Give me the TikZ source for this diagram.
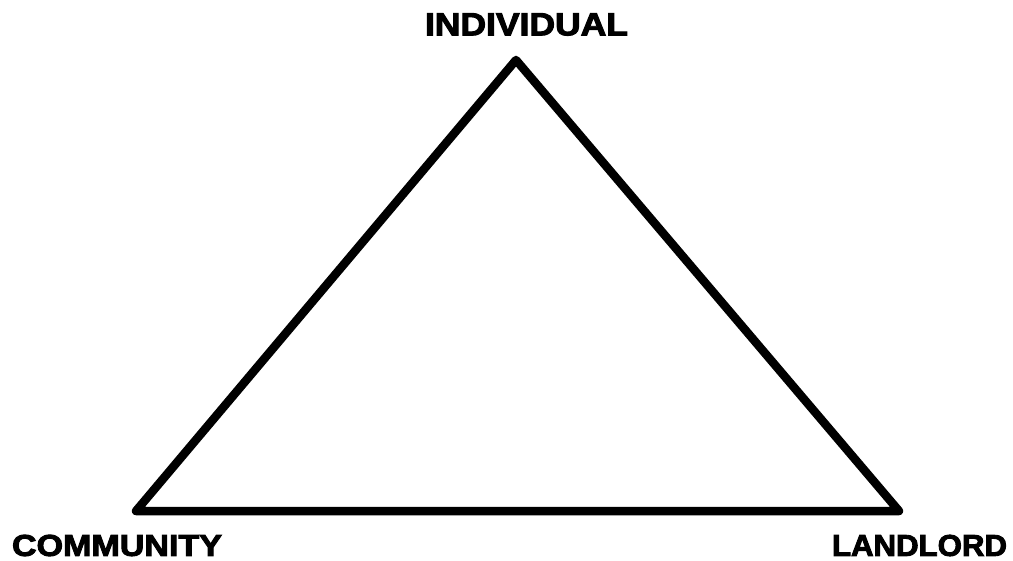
\documentclass[tikz,border=0pt]{standalone}
\usepackage{fontspec}
\newfontfamily\lblfont[FakeBold=3]{Liberation Sans Bold}
\begin{document}
\begin{tikzpicture}[x=1pt,y=-1pt,
  lbl/.style={inner sep=0pt, font=\lblfont\fontsize{30}{30}\selectfont},
  edge/.style={line width=8.5pt, line join=round}]
\useasboundingbox (0,0) rectangle (1013,561);
\coordinate (ind) at (516,60);
\coordinate (com) at (136,511);
\coordinate (land) at (899,511);
\draw[edge] (ind) -- (land) -- (com) -- cycle;
\node[lbl] (tind) at (526.5,24.5) {\resizebox{203pt}{22pt}{INDIVIDUAL}};
\node[lbl] (tcom) at (117,545.5) {\resizebox{210pt}{21pt}{COMMUNITY}};
\node[lbl] (tland) at (919.5,545.5) {\resizebox{175pt}{21pt}{LANDLORD}};
\end{tikzpicture}
\end{document}
